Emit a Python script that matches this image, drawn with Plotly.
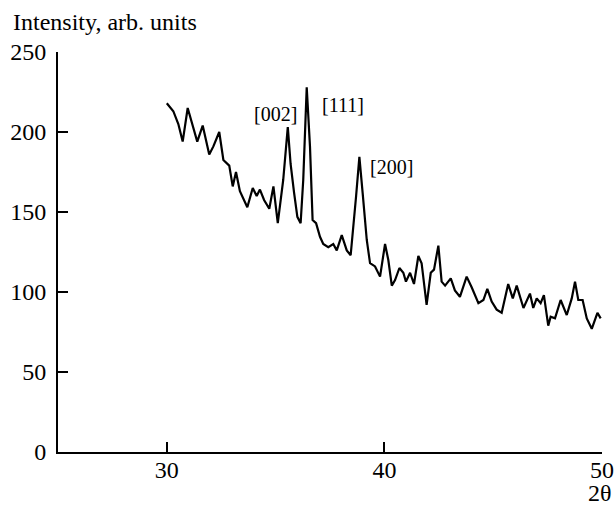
import plotly.graph_objects as go

two_theta = [30.0, 30.3, 30.53, 30.73, 30.96, 31.14, 31.4, 31.65, 31.95, 32.14, 32.41, 32.6,
             32.87, 33.03, 33.18, 33.36, 33.7, 33.95, 34.13, 34.28, 34.47, 34.71, 34.9, 35.1,
             35.35, 35.56, 35.69, 35.85, 36.0, 36.15, 36.27, 36.43, 36.58, 36.7, 36.86, 37.04,
             37.19, 37.42, 37.65, 37.81, 38.04, 38.27, 38.45, 38.7, 38.85, 39.0, 39.19, 39.34,
             39.57, 39.8, 40.03, 40.18, 40.34, 40.49, 40.69, 40.87, 40.99, 41.18, 41.36, 41.56,
             41.71, 41.94, 42.13, 42.28, 42.48, 42.63, 42.79, 43.05, 43.24, 43.47, 43.78, 44.01,
             44.32, 44.55, 44.73, 44.93, 45.16, 45.39, 45.69, 45.9, 46.08, 46.39, 46.69, 46.84,
             47.0, 47.18, 47.33, 47.53, 47.64, 47.84, 48.1, 48.38, 48.61, 48.76, 48.91, 49.11,
             49.3, 49.53, 49.79, 49.94]
intensity = [218, 213, 205, 194, 215, 206, 194, 204, 186, 191, 200, 182.5,
             179, 166, 175, 163, 153, 165, 160, 164, 157.5, 152, 166, 143,
             170, 203, 180, 162, 147, 143, 170, 228, 191, 145, 143, 134.5,
             130, 128, 130, 126, 135.6, 126, 123, 160, 184.5, 162, 132.5, 118,
             116, 109.6, 130, 120, 104, 107.5, 115, 112, 106.5, 112, 105, 122.5,
             118, 92, 112, 114, 129, 106.5, 104, 108.5, 101, 97, 109.6, 103,
             93, 95, 102, 94, 89, 87, 105, 96, 104, 90, 99, 90,
             96, 93, 98, 79, 84.5, 83.5, 95, 85.6, 96, 106.5, 95, 95,
             83.5, 77, 87, 83.5]

peak_labels = ["[002]", "[111]", "[200]"]
peak_x = [34.99, 38.12, 40.33]
peak_y = [211, 217, 178]

x_ticks = [30, 40, 50]
y_ticks = [0, 50, 100, 150, 200, 250]

FONT = "Liberation Serif"

fig = go.Figure()
fig.add_trace(go.Scatter(x=two_theta, y=intensity, mode="lines",
                         line=dict(color="black", width=2.2), showlegend=False))

for lab, px, py in zip(peak_labels, peak_x, peak_y):
    fig.add_annotation(x=px, y=py, text=lab, showarrow=False,
                       font=dict(family=FONT, size=20, color="black"))

fig.add_annotation(xref="paper", yref="paper", x=0, y=1, text="Intensity, arb. units",
                   showarrow=False, xanchor="left", yanchor="middle", xshift=-47, yshift=30,
                   font=dict(family=FONT, size=24, color="black"))
fig.add_annotation(xref="paper", yref="paper", x=1, y=0, text="2θ",
                   showarrow=False, xanchor="center", yanchor="middle", xshift=-2, yshift=-41,
                   font=dict(family=FONT, size=24, color="black"))

fig.update_xaxes(range=[25, 50], tickvals=x_ticks, ticks="inside", ticklen=10, tickwidth=2,
                 tickcolor="black", showline=True, linecolor="black", linewidth=2,
                 showgrid=False, zeroline=False, automargin=False, ticklabelstandoff=-5,
                 tickfont=dict(family=FONT, size=24, color="black"))
fig.update_yaxes(range=[0, 250], tickvals=y_ticks, ticks="inside", ticklen=10, tickwidth=2,
                 tickcolor="black", showline=True, linecolor="black", linewidth=2,
                 showgrid=False, zeroline=False, ticklabelstandoff=5, automargin=False,
                 tickfont=dict(family=FONT, size=24, color="black"))

fig.update_layout(width=616, height=506, margin=dict(l=58, r=14, t=52, b=54),
                  plot_bgcolor="white", paper_bgcolor="white")

# remove the default page margin so the 616x506 figure fills the window exactly
fig.write_html("out.html", config={"displayModeBar": False},
               post_script="document.body.style.margin='0';document.body.style.overflow='hidden';")
